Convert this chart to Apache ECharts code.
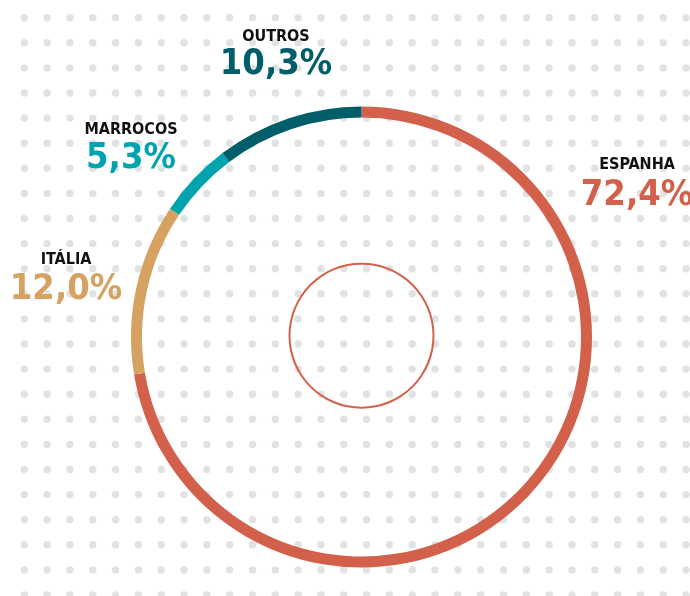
<!DOCTYPE html>
<html><head><meta charset="utf-8">
<script src="https://cdn.jsdelivr.net/npm/echarts@6/dist/echarts.min.js"></script>
<style>html,body{margin:0;padding:0;background:#fff}#c{width:690px;height:596px}</style>
</head><body><div id="c"></div>
<script>
const categories = ['ESPANHA', 'ITÁLIA', 'MARROCOS', 'OUTROS'];
const shares = [72.4, 12.0, 5.3, 10.3];
const valueLabels = ['72,4%', '12,0%', '5,3%', '10,3%'];

const colors = ['#d2604b', '#d5a262', '#00a3ae', '#005e6b'];
// label layout only
const labelPos = [[637, 153.5], [66, 248.5], [131, 118.8], [276, 26.3]];
const valueLineHeights = [40, 38, 36, 33.4];

const chart = echarts.init(document.getElementById('c'), null, {renderer: 'canvas'});

const dots = [];
for (let j = 0; j < 24; j++) {
  for (let i = 0; i < 30; i++) {
    dots.push({type: 'circle', silent: true, z: 0,
      shape: {cx: 24.3 + i * 22.82, cy: 17.7 + j * 25.1, r: 3.7},
      style: {fill: '#e1e2e2'}});
  }
}

const FONT = 'DejaVu Sans Condensed';
chart.setOption({
  animation: false,
  backgroundColor: '#ffffff',
  graphic: {elements: dots},
  series: [
    {
      type: 'pie', z: 3,
      center: [361.5, 337], radius: [219.5, 230.5],
      startAngle: 90, clockwise: true,
      silent: true,
      avoidLabelOverlap: false,
      label: {
        show: true, position: 'outside', alignTo: 'none',
        overflow: 'none', width: 200,
        fontFamily: FONT,
        formatter: p => '{n|' + p.name + '}\n{v' + p.dataIndex + '|' + valueLabels[p.dataIndex] + '}',
        rich: Object.assign({
          n: {fontFamily: FONT, fontWeight: 'bold', fontSize: 16, lineHeight: 22, color: '#111', align: 'center'}
        }, ...colors.map((c, i) => ({['v' + i]: {fontFamily: FONT, fontWeight: 'bold', fontSize: 36, lineHeight: valueLineHeights[i], color: c, align: 'center'}})))
      },
      labelLine: {show: false},
      labelLayout: p => ({x: labelPos[p.dataIndex][0], y: labelPos[p.dataIndex][1], align: 'center', verticalAlign: 'top'}),
      data: categories.map((c, i) => ({name: c, value: shares[i], itemStyle: {color: colors[i]}}))
    },
    {
      type: 'pie', z: 3, silent: true,
      center: [361.5, 335.7], radius: [71, 73],
      label: {show: false}, labelLine: {show: false},
      data: [{value: 1, name: 'inner', itemStyle: {color: '#d2604b'}}]
    }
  ]
});
</script></body></html>
